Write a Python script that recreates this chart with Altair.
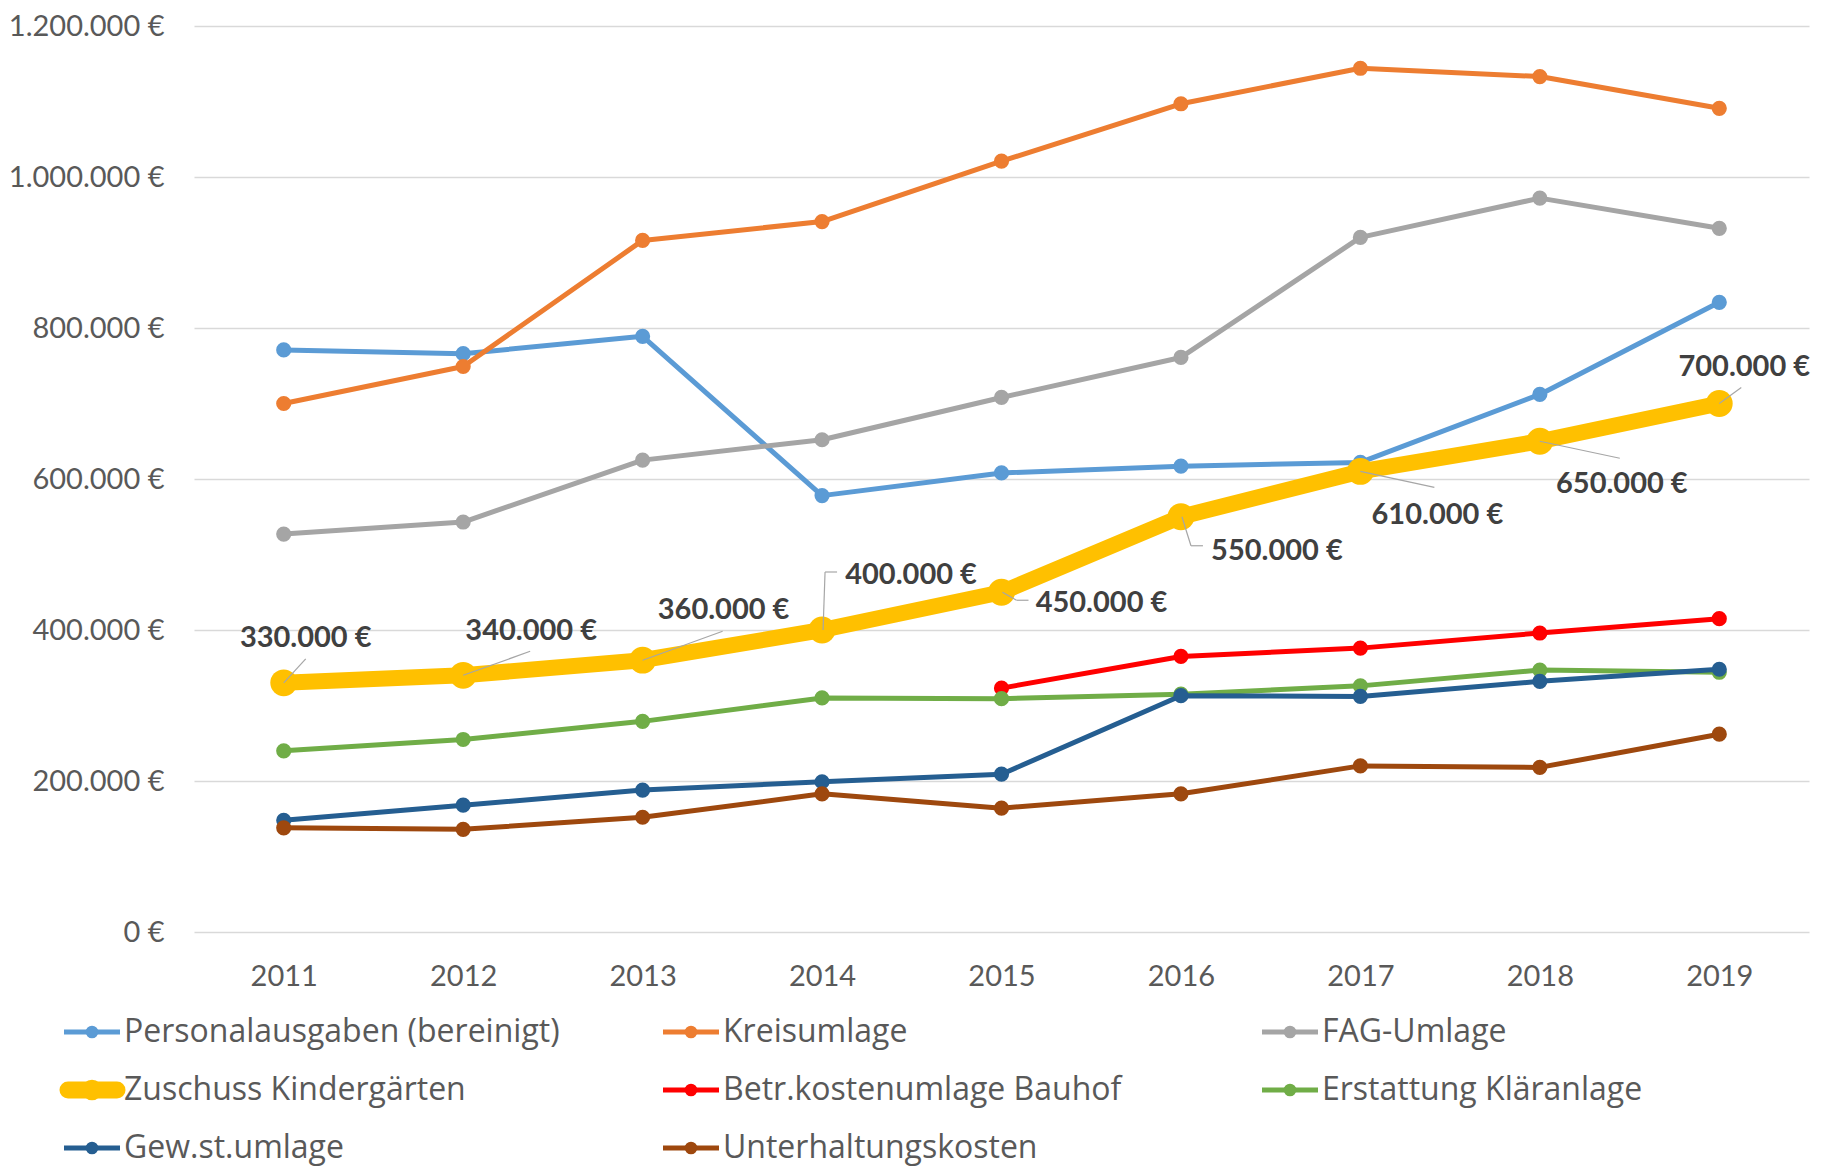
import altair as alt
import pandas as pd

# ---------------- data ----------------
years = ["2011", "2012", "2013", "2014", "2015", "2016", "2017", "2018", "2019"]

series_names = [
    "Personalausgaben (bereinigt)",
    "Kreisumlage",
    "FAG-Umlage",
    "Zuschuss Kindergärten",
    "Betr.kostenumlage Bauhof",
    "Erstattung Kläranlage",
    "Gew.st.umlage",
    "Unterhaltungskosten",
]

personalausgaben = [771000, 766000, 789000, 578000, 608000, 617000, 622000, 712000, 834000]
kreisumlage = [700000, 749000, 916000, 941000, 1021000, 1097000, 1144000, 1133000, 1091000]
fag_umlage = [527000, 543000, 625000, 652000, 708000, 761000, 920000, 972000, 932000]
zuschuss_kiga = [330000, 340000, 360000, 400000, 450000, 550000, 610000, 650000, 700000]
bauhof = [None, None, None, None, 323000, 365000, 376000, 396000, 415000]
klaeranlage = [240000, 255000, 279000, 310000, 309000, 315000, 326000, 347000, 344000]
gewst_umlage = [148000, 168000, 188000, 199000, 209000, 313000, 312000, 332000, 348000]
unterhaltung = [138000, 136000, 152000, 183000, 164000, 183000, 220000, 218000, 262000]

series_values = [personalausgaben, kreisumlage, fag_umlage, zuschuss_kiga,
                 bauhof, klaeranlage, gewst_umlage, unterhaltung]

y_ticks = [0, 200000, 400000, 600000, 800000, 1000000, 1200000]

# ---------------- styles ----------------
series_colors = ["#5B9BD5", "#ED7D31", "#A5A5A5", "#FFC000",
                 "#FF0000", "#70AD47", "#255E91", "#9E480E"]
HIGHLIGHT = "Zuschuss Kindergärten"
FONT = "Lato"
LEGEND_FONT = "Open Sans"
AXIS_COLOR = "#595959"
LABEL_COLOR = "#404040"
LEADER_COLOR = "#A6A6A6"

# label placement (pixel offsets from the data point)
label_dx = [22, 68, 81, 89, 100, 96, 77, 82, 25]
label_dy = [-45, -44, -50, -55, 11, 34, 44, 43, -37]
leader_segments = [
    [(0, 0, 22, -24)],
    [(0, 0, 67, -24)],
    [(0, 0, 80, -29)],
    [(1, 0, 3, -58), (3, -58, 15, -58)],
    [(1, 0, 15, 8), (15, 8, 27, 8)],
    [(1, 0, 10, 29), (10, 29, 22, 29)],
    [(0, 0, 74, 16)],
    [(0, 0, 80, 17)],
    [(0, 0, 22, -16)],
]

# ---------------- tables ----------------
rows = []
for name, vals in zip(series_names, series_values):
    for yr, v in zip(years, vals):
        if v is not None:
            rows.append({"series": name, "year": yr, "value": v})
df = pd.DataFrame(rows)

kiga_df = pd.DataFrame({
    "year": years,
    "value": zuschuss_kiga,
    "label": [f"{v:,.0f}".replace(",", ".") + " €" for v in zuschuss_kiga],
})

legend_df = pd.DataFrame({
    "name": series_names,
    "col": [i % 3 for i in range(len(series_names))],
    "row": [i // 3 for i in range(len(series_names))],
})

# ---------------- main chart ----------------
x_enc = alt.X(
    "year:O",
    scale=alt.Scale(type="point", padding=0.5, domain=years),
    axis=alt.Axis(labelAngle=0, domain=False, ticks=False, labelPadding=30,
                  labelFont=FONT, labelFontSize=29, labelColor=AXIS_COLOR,
                  title=None, grid=False),
)
y_enc = alt.Y(
    "value:Q",
    scale=alt.Scale(domain=[0, 1200000], nice=False),
    axis=alt.Axis(values=y_ticks,
                  labelExpr="replace(replace(format(datum.value, ',.0f'), ',', '.'), ',', '.') + ' €'",
                  grid=True, gridColor="#D9D9D9", gridWidth=1.3,
                  domain=False, ticks=False, labelPadding=30,
                  labelFont=FONT, labelFontSize=29, labelColor=AXIS_COLOR,
                  title=None, minExtent=185, maxExtent=185),
)

layers = []
for name, color in zip(series_names, series_colors):
    hl = name == HIGHLIGHT
    base = alt.Chart(df).transform_filter(alt.datum.series == name)
    layers.append(base.mark_line(strokeWidth=16 if hl else 5, color=color,
                                 strokeJoin="round", strokeCap="round")
                  .encode(x=x_enc, y=y_enc))
    layers.append(base.mark_circle(size=720 if hl else 230, color=color, opacity=1)
                  .encode(x=x_enc, y=y_enc))

for i, yr in enumerate(years):
    kb = alt.Chart(kiga_df).transform_filter(alt.datum.year == yr)
    for (x1, y1, x2, y2) in leader_segments[i]:
        layers.append(kb.mark_rule(color=LEADER_COLOR, strokeWidth=1.2,
                                   xOffset=x1, yOffset=y1, x2Offset=x2, y2Offset=y2)
                      .encode(x=x_enc, y=y_enc, x2=alt.X2("year"), y2=alt.Y2("value")))
    layers.append(kb.mark_text(dx=label_dx[i], dy=label_dy[i], align="center",
                               baseline="middle", font=FONT, fontSize=29,
                               fontWeight="bold", color=LABEL_COLOR)
                  .encode(x=x_enc, y=y_enc, text="label:N"))

main = alt.layer(*layers).properties(width=1615, height=906)

# ---------------- legend ----------------
lx = alt.X("col:O", scale=alt.Scale(type="point", padding=0, domain=[0, 1, 2]), axis=None)
ly = alt.Y("row:O", scale=alt.Scale(type="point", padding=0.5, domain=[0, 1, 2]), axis=None)
lc = alt.Color("name:N", scale=alt.Scale(domain=series_names, range=series_colors), legend=None)

lbase = alt.Chart(legend_df)
normal = lbase.transform_filter(alt.datum.name != HIGHLIGHT)
special = lbase.transform_filter(alt.datum.name == HIGHLIGHT)

legend = alt.layer(
    normal.mark_rule(xOffset=-130, x2Offset=-74, strokeWidth=5).encode(
        x=lx, x2=alt.X2("col"), y=ly, color=lc),
    normal.mark_circle(xOffset=-102, size=160, opacity=1).encode(x=lx, y=ly, color=lc),
    special.mark_rule(xOffset=-126, x2Offset=-77, strokeWidth=17, strokeCap="round").encode(
        x=lx, x2=alt.X2("col"), y=ly, color=lc),
    special.mark_circle(xOffset=-102, size=420, opacity=1).encode(x=lx, y=ly, color=lc),
    lbase.mark_text(dx=-70, align="left", baseline="middle", font=LEGEND_FONT, fontSize=32,
                    color=AXIS_COLOR).encode(x=lx, y=ly, text="name:N"),
).properties(width=1198, height=174)

chart = (alt.vconcat(main, legend, spacing=12)
         .properties(padding={"top": 4, "left": 0, "right": 0, "bottom": 0})
         .configure_view(stroke=None))

chart.save("out.html", embed_options={"renderer": "svg", "actions": False})
